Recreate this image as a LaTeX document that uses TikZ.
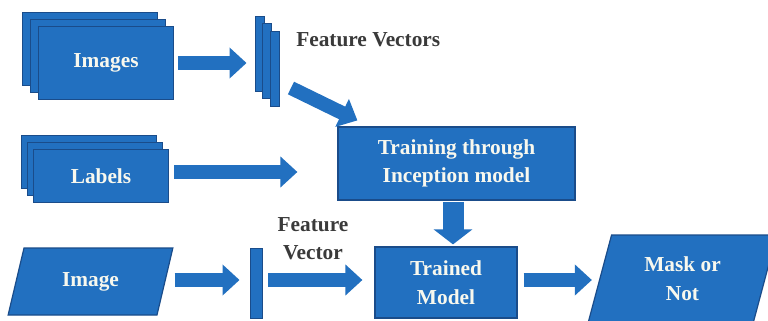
\documentclass[tikz,border=0pt]{standalone}
\usepackage{fontspec}
\setmainfont{Liberation Serif}
\usetikzlibrary{arrows.meta,shapes.geometric,calc}

\definecolor{boxblue}{RGB}{34,112,192}
\definecolor{boxedge}{RGB}{26,76,138}
\definecolor{labelgrey}{RGB}{58,58,58}
\definecolor{paleword}{RGB}{248,248,238}

% lengths below are given in pixels of a 768 x 321 canvas
\newcommand\pxl[1]{#1*0.75pt}

\begin{document}
\begin{tikzpicture}[x=0.75pt,y=-0.75pt,
  card/.style={draw=boxedge, fill=boxblue, line width=0.9pt, inner sep=0pt,
    text=paleword, font=\bfseries\fontsize{16}{21.5}\selectfont, align=center},
  stackcard/.style={card, minimum width=\pxl{135}, minimum height=\pxl{73}},
  labelcard/.style={card, minimum width=\pxl{135}, minimum height=\pxl{53}},
  vecbar/.style={draw=boxedge, fill=boxblue, line width=0.7pt, inner sep=0pt,
    minimum width=\pxl{9}, minimum height=\pxl{75}},
  slanted/.style={card, trapezium, trapezium stretches=true,
    trapezium left angle=#1, trapezium right angle=180-#1},
  lbl/.style={inner sep=0pt, text=labelgrey, align=center,
    font=\bfseries\fontsize{16}{21}\selectfont},
  flow/.style={boxblue, line width=10.5pt,
    -{Triangle[width=22.5pt,length=12.75pt]}},
  downflow/.style={boxblue, line width=15.75pt,
    -{Triangle[width=28.5pt,length=11.25pt]}}
]
\clip (0,0) rectangle (768,321);
\fill[white] (0,0) rectangle (768,321);

% stack of input images
\node[stackcard] (img3) at (90,49) {};
\node[stackcard] (img2) at (98,56) {};
\node[stackcard] (img1) at (106,63) {Images};

% stack of labels
\node[labelcard] (lab3) at (89,162) {};
\node[labelcard] (lab2) at (95,169) {};
\node[labelcard] (lab1) at (101,176) {Labels};

% feature vectors of the training images
\node[vecbar] (fv1) at (259.5,54) {};
\node[vecbar] (fv2) at (267,61) {};
\node[vecbar] (fv3) at (275,69) {};
\node[lbl, anchor=west] (fvtext) at (296,40) {Feature Vectors};

% training stage
\node[card, minimum width=\pxl{237}, minimum height=\pxl{73}] (train)
  at (456.5,163.5) {Training through\\Inception model};

% test path
\node[slanted=70, minimum width=\pxl{165}, minimum height=\pxl{67}] (img)
  at (90.5,281.5) {Image};
\node[draw=boxedge, fill=boxblue, line width=0.7pt, inner sep=0pt,
  minimum width=\pxl{12}, minimum height=\pxl{70}] (fvs) at (256,283) {};
\node[lbl] (fvstext) at (313,239) {Feature\\Vector};
\node[card, minimum width=\pxl{142}, minimum height=\pxl{71}] (trained)
  at (446,282.5) {Trained\\Model};
\node[slanted=74, minimum width=\pxl{189}, minimum height=\pxl{87}] (mask)
  at (682.5,278.5) {Mask or\\Not};

% helper coordinates for the block arrows
\coordinate (row) at (0,280);
\coordinate (dn) at (453,0);
\coordinate (labtip) at ($(train.west)+(-40,8.5)$);
\coordinate (dtip) at ($(train.north west)+(20,-6)$);

% block arrows
\draw[flow, shorten <=3pt, shorten >=6pt] (img1.east) -- (img1.east -| fv1.west);
\draw[flow] ($(fv3.east)+(11,19)$) -- (dtip);
\draw[flow, shorten <=3.75pt] (lab1.east |- labtip) -- (labtip);
\draw[downflow, shorten <=1pt, shorten >=1.5pt] (train.south -| dn) -- (trained.north -| dn);
\draw[flow, shorten <=6.75pt, shorten >=7.5pt] (img.east |- row) -- (fvs.west |- row);
\draw[flow, shorten <=4.5pt, shorten >=9pt] (fvs.east |- row) -- (trained.west |- row);
\draw[flow, shorten <=4.5pt, shorten >=5.6pt] (trained.east |- row) -- (mask.west |- row);
\end{tikzpicture}
\end{document}
